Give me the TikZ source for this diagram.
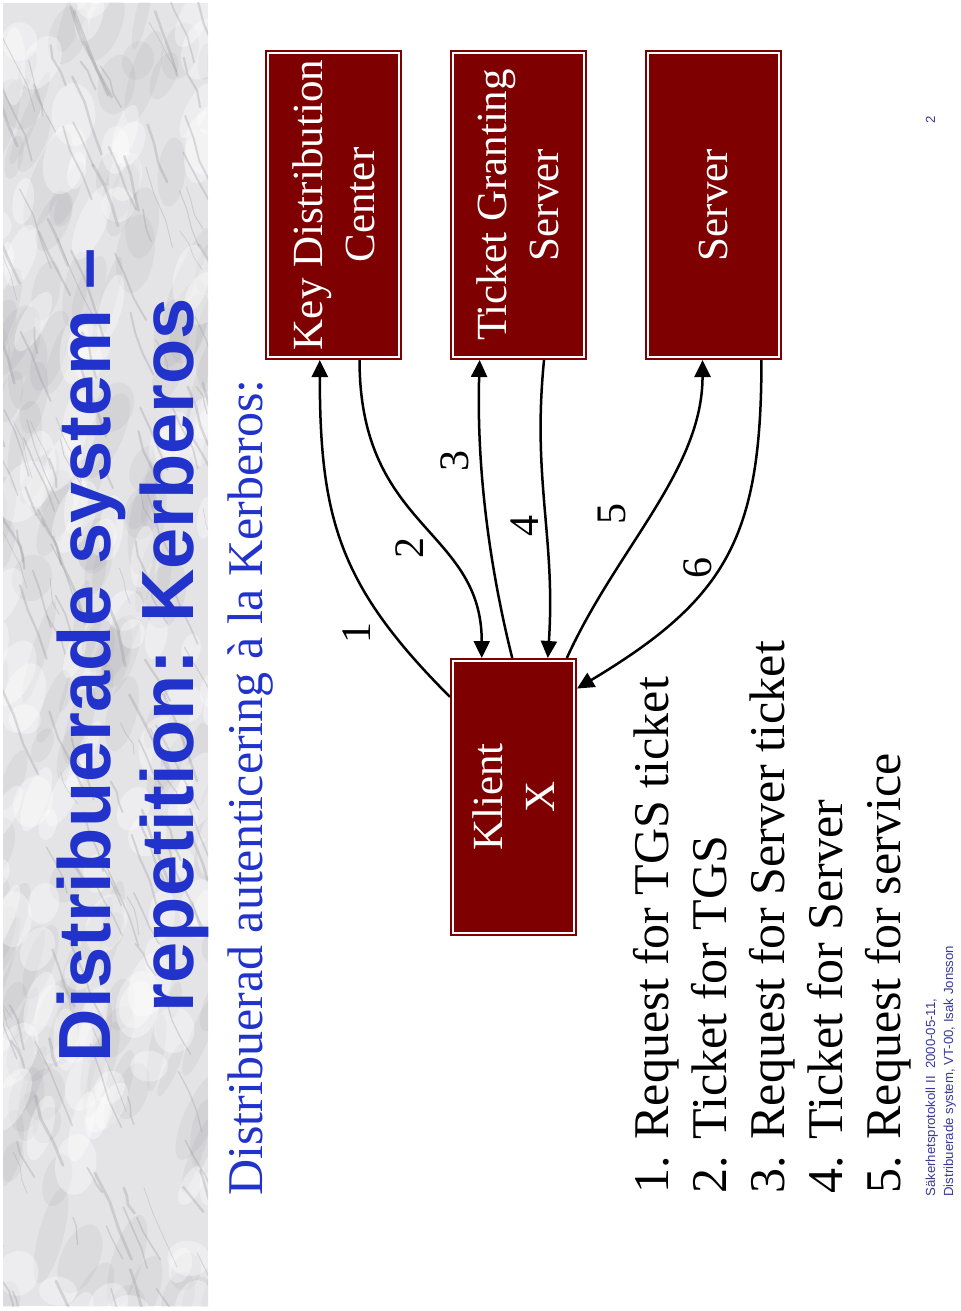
\documentclass[tikz,border=0pt]{standalone}
\usepackage{fontspec}
\setmainfont{Liberation Serif}
\setsansfont{Liberation Sans}
\usetikzlibrary{arrows.meta,calc}
\definecolor{slideblue}{HTML}{2233CC}
\definecolor{footblue}{HTML}{3A3A9A}
\definecolor{boxred}{HTML}{7F0000}
\definecolor{marble}{HTML}{E4E4E7}
\definecolor{vein}{HTML}{8E8E96}
\tikzset{
  msg/.style={-{Triangle[length=8.5pt,width=8pt]},draw=black,line width=1.25pt},
  party/.style={rotate=90,draw=boxred,double=white,double distance=1pt,line width=1pt,
    fill=boxred,text=white,align=center,inner sep=0pt,outer sep=1.5pt,
    font=\fontsize{21.5}{26}\selectfont},
  hostbox/.style={party,minimum width=152pt,minimum height=65.5pt},
  clientbox/.style={party,minimum width=136pt,minimum height=60.5pt},
  steplabel/.style={rotate=90,inner sep=0pt,font=\fontsize{21}{24}\selectfont},
  titleline/.style={rotate=90,anchor=base,inner sep=0pt,text=slideblue,
    font=\sffamily\bfseries\fontsize{37}{42}\selectfont},
  listline/.style={rotate=90,anchor=base west,inner sep=0pt,font=\fontsize{25}{29}\selectfont},
  footline/.style={rotate=90,anchor=base west,inner sep=0pt,text=footblue,
    font=\sffamily\fontsize{6.6}{8}\selectfont},
}
\begin{document}
\begin{tikzpicture}[x=.5pt,y=.5pt]
\useasboundingbox (0,0) rectangle (960,-1311);
\fill[white] (0,0) rectangle (960,-1311);
\begin{scope}
\clip (3,-3) rectangle (208,-1306);
\fill[marble] (3,-3) rectangle (208,-1306);
\pgfmathsetseed{11}
\foreach \k in {1,...,160}{
  \pgfmathsetmacro\mx{-20+240*rnd}\pgfmathsetmacro\my{-1330+1340*rnd}
  \fill[vein,opacity=.10,rotate around={-25+20*rnd:(\mx,\my)}] (\mx,\my) ellipse ({6+14*rnd} and {18+36*rnd});}
\foreach \k in {1,...,120}{
  \pgfmathsetmacro\mx{-20+240*rnd}\pgfmathsetmacro\my{-1330+1340*rnd}
  \fill[white,opacity=.35,rotate around={-30+30*rnd:(\mx,\my)}] (\mx,\my) ellipse ({8+14*rnd} and {14+26*rnd});}
\foreach \k in {1,...,170}{
  \pgfmathsetmacro\mx{-40+260*rnd}\pgfmathsetmacro\my{-1340+1360*rnd}
  \pgfmathsetmacro\ml{8+22*rnd}\pgfmathsetmacro\mw{.3+1.2*rnd}
  \draw[vein,opacity=.28,line width=\mw pt,line cap=round,line join=round]
    (\mx,\my) -- ++({0.4*\ml+8*rnd-4},{-\ml}) -- ++({0.4*\ml+8*rnd-4},{-\ml}) -- ++({0.4*\ml+8*rnd-4},{-\ml});}
\end{scope}
\node[titleline] (title1) at (110,-655) {Distribuerade system –};
\node[titleline] (title2) at (193,-655) {repetition: Kerberos};
\node[listline,text=slideblue] (subtitle) at (262,-1196) {Distribuerad autenticering à la Kerberos:};
\node[hostbox] (kdc) at (333.5,-205) {Key Distribution\\Center};
\node[hostbox] (tgs) at (518,-205) {Ticket Granting\\Server};
\node[hostbox] (srv) at (713.5,-205) {Server};
\node[clientbox] (klient) at (513.5,-797) {Klient\\X};
\draw[msg] ($(klient.north east)!.14!(klient.north west)$) .. controls +(-110,110) and +(0,-160) .. ($(kdc.north west)!.40!(kdc.south west)$);
\draw[msg] ($(kdc.north west)!.69!(kdc.south west)$) .. controls +(0,-170) and +(0,130) .. ($(klient.north east)!.25!(klient.south east)$);
\draw[msg] ($(klient.north east)!.49!(klient.south east)$) .. controls +(-25,100) and +(-3,-100) .. ($(tgs.north west)!.22!(tgs.south west)$);
\draw[msg] ($(tgs.north west)!.69!(tgs.south west)$) .. controls +(-12,-120) and +(8,120) .. ($(klient.north east)!.77!(klient.south east)$);
\draw[msg] ($(klient.north east)!.92!(klient.south east)$) .. controls +(50,110) and +(0,-110) .. ($(srv.north west)!.42!(srv.south west)$);
\draw[msg] ($(srv.north west)!.85!(srv.south west)$) .. controls +(0,-177) and +(150,90) .. ($(klient.south east)!.11!(klient.south west)$);
\foreach \n/\px/\py in {1/357/633,2/410/548,3/455/461,4/525/526,5/612/514,6/698/568}
  \node[steplabel] (step\n) at (\px,-\py) {\n};
\foreach \txt [count=\i] in {Request for TGS ticket,Ticket for TGS,Request for Server ticket,Ticket for Server,Request for service}
  \node[listline] (item\i) at ({610+58*\i},-1194) {\i. \txt};
\node[footline] (foot1) at (935,-1197) {Säkerhetsprotokoll II\ \ 2000-05-11,};
\node[footline] (foot2) at (953,-1197) {Distribuerade system, VT-00, Isak Jonsson};
\node[footline,anchor=base] (pageno) at (935,-120) {2};
\end{tikzpicture}
\end{document}
